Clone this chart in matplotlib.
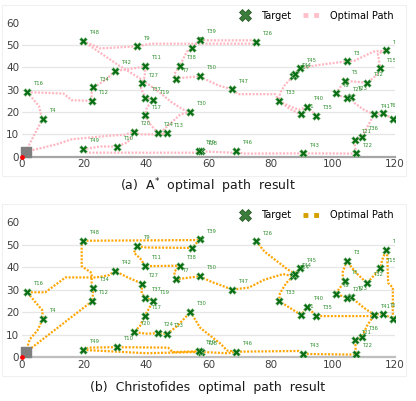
import matplotlib
matplotlib.use("Agg")
import matplotlib.pyplot as plt
from matplotlib.lines import Line2D
from matplotlib.patches import Rectangle

# ---------------- data ----------------
names = ["T1", "T2", "T3", "T4", "T5", "T6", "T7", "T8", "T9", "T10",
         "T11", "T12", "T13", "T14", "T15", "T16", "T17", "T18", "T19", "T20",
         "T21", "T22", "T23", "T24", "T25", "T26", "T27", "T28", "T29", "T30",
         "T31", "T32", "T33", "T34", "T35", "T36", "T37", "T38", "T39", "T40",
         "T41", "T42", "T43", "T44", "T45", "T46", "T47", "T48", "T49", "T50"]
tx = [89.7, 54.7, 104.5, 6.7, 103.9, 116.0, 49.7, 100.9, 37.0, 30.5,
      39.7, 22.6, 46.7, 87.2, 115.3, 1.7, 39.5, 117.1, 42.0, 36.1,
      107.2, 107.4, 105.8, 43.6, 104.4, 75.4, 38.6, 57.6, 56.9, 54.2,
      119.3, 111.0, 82.7, 23.0, 94.7, 109.3, 39.7, 50.8, 57.2, 91.8,
      113.3, 29.9, 90.5, 87.8, 89.4, 69.0, 67.6, 19.6, 19.6, 57.2]
ty = [18.9, 48.6, 42.7, 17.0, 33.9, 19.4, 34.7, 28.3, 49.4, 4.5,
      40.5, 25.0, 10.4, 36.0, 39.5, 28.9, 18.5, 47.6, 25.2, 11.2,
      7.5, 1.5, 26.8, 10.7, 26.5, 51.5, 32.8, 2.4, 2.7, 20.1,
      17.1, 33.0, 25.0, 31.0, 18.3, 8.9, 26.5, 40.8, 52.4, 22.3,
      18.9, 38.4, 1.5, 37.2, 39.5, 2.5, 30.1, 51.8, 3.3, 36.0]

depot = (1.2, 2.2)
origin = (0.0, 0.0)

# A* path segments (target names or intermediate grid waypoints)
astar_paths = [
    ["D", (4.0, 10.0), "T4"],
    ["T16", (5.5, 22.5), (6.0, 19.5), "T4"],
    ["T16", (13.3, 28.3), (16.0, 25.3), "T12"],
    ["T12", (22.3, 28.0), "T34", (27.0, 34.5), "T42", (34.5, 39.2), "T11"],
    ["T11", (39.5, 36.0), "T27", (38.3, 30.5), "T37", "T19", (40.2, 22.0), "T17",
     (41.0, 15.0), "T24", "T13"],
    ["T48", (25.2, 48.5), "T9", (41.5, 50.6), (75.0, 50.6), "T26"],
    ["T39", (60.0, 52.1), (75.0, 52.1), "T26"],
    ["T48", (31.0, 41.0), (38.0, 35.0), (43.6, 29.5), (48.0, 24.5), (52.0, 21.0), "T30"],
    ["T30", (51.0, 19.0), (45.5, 12.0), "T13"],
    ["T20", (38.0, 10.0), (45.0, 10.0), "T13"],
    ["D", (11.0, 5.5), (16.0, 7.8), (28.0, 9.4), (33.0, 9.8), "T20"],
    ["T49", (25.2, 4.6), "T10", (34.0, 6.5), "T20"],
    ["T49", (21.0, 1.8), (56.0, 1.8), "T29", "T28", (67.5, 1.8), "T46",
     (71.0, 1.4), "T43", (107.0, 1.4), "T22"],
    ["T22", (107.0, 6.0), "T21", "T36", (111.0, 13.0), (112.5, 17.0), "T41", "T6", "T31"],
    ["T41", (110.0, 21.0), (107.0, 24.0), "T23", "T25", (102.0, 27.3), "T8", "T5",
     (108.0, 33.5), "T32", (114.5, 37.0), "T15", (114.5, 46.0), "T18", (113.0, 47.0),
     (107.0, 43.0), "T3", (95.0, 41.0), "T45", "T44", "T14", (84.5, 32.0), (83.0, 28.5), "T33"],
    ["T33", (86.0, 21.5), "T1", "T40", "T35"],
    ["T33", (85.5, 23.0), (89.0, 21.0), "T40"],
    ["T33", (81.5, 28.0), (69.5, 28.0), "T47", (63.0, 32.0), (60.0, 34.0), "T50",
     (50.5, 35.2), "T7", (49.0, 37.0), "T38", (53.0, 47.0), "T2", "T39"],
]

# Christofides tour segments
christo_paths = [
    ["D", (2.5, 8.0), (5.0, 12.0), "T4", (6.5, 21.0), (4.0, 25.0), "T16"],
    ["D", "T12"],
    ["T16", (7.5, 28.9), (14.0, 35.5), (24.0, 35.5), (28.0, 36.5), "T42", (34.0, 35.5),
     "T27", (38.5, 28.5), "T37", "T19", (41.0, 22.0), "T17", (38.0, 14.0), "T20",
     (40.0, 10.5), "T24", "T13", (50.0, 14.0), "T30", (57.4, 13.0), (63.9, 6.0),
     (66.0, 3.0), "T46"],
    ["T48", (19.2, 50.0), (19.2, 40.5), (22.4, 37.5), (22.4, 31.5), "T34", "T12"],
    ["T48", (56.0, 52.1), "T39", "T2", (40.0, 48.8), "T9", (36.0, 46.5), (38.0, 44.0),
     "T11", (50.0, 40.7), "T38", (49.0, 38.0), (49.3, 34.5), "T7", "T50", (61.0, 33.5),
     (64.0, 32.0), "T47", (73.0, 31.0), (78.0, 34.5), (84.0, 37.0), "T14", "T44", "T45"],
    ["T26", (78.0, 47.0), (85.5, 39.0), "T44"],
    ["T14", (85.0, 33.0), (83.0, 28.5), "T33", "T1", "T40", "T35", (112.0, 18.3), "T41",
     "T6", "T31", (119.3, 31.0), (117.8, 33.0), (117.5, 45.0), "T18", (115.8, 43.0),
     "T15", "T32", (107.5, 37.5), "T3", (103.2, 38.0), (103.2, 34.5), "T5", "T8",
     "T25", "T23", (110.0, 22.0), "T41"],
    ["T46", (89.0, 2.8), "T43", (106.0, 1.2), "T22", "T21", "T36", (111.0, 14.0), "T41"],
    ["T49", (21.5, 4.3), "T10", (47.0, 4.3), (48.5, 2.3), "T29"],
    ["T49", (40.0, 1.8), "T28", (66.0, 1.8), "T46"],
]

xticks = [0, 20, 40, 60, 80, 100, 120]
yticks = [0, 10, 20, 30, 40, 50, 60]

# ---------------- drawing ----------------
pos = {n: (x, y) for n, x, y in zip(names, tx, ty)}
pos["D"] = depot


def resolve(path):
    xs, ys = [], []
    for p in path:
        x, y = pos[p] if isinstance(p, str) else p
        xs.append(x)
        ys.append(y)
    return xs, ys


plt.rcParams['font.family'] = ['DejaVu Sans']
fig = plt.figure(figsize=(4.16, 4.01), dpi=100)

W, H = 416, 401
panels = [
    dict(top=22.7, bottom=156.7, paths=astar_paths, color="#ffb6c1", lw=1.6,
         caption="(a)  A$^{*}$  optimal  path  result", cap_y=186, axis_col="#a6a6a6",
         leg_col="#ffc0cb"),
    dict(top=222.3, bottom=357.3, paths=christo_paths, color="#ffa500", lw=1.6,
         caption="(b)  Christofides  optimal  path  result", cap_y=387, axis_col="#bfbfbf",
         leg_col="#d4a000"),
]

for pnl in panels:
    # faint panel frame
    fig.patches.append(Rectangle((2 / W, 1 - (pnl["bottom"] + 19) / H), 404 / W,
                                 (pnl["bottom"] - pnl["top"] + 37) / H,
                                 transform=fig.transFigure, fill=False,
                                 edgecolor="#f0f0f0", lw=0.8))
    ax = fig.add_axes([22 / W, 1 - pnl["bottom"] / H, 373 / W,
                       (pnl["bottom"] - pnl["top"]) / H])
    ax.set_xlim(0, 120)
    ax.set_ylim(0, 60)
    for s in ["top", "right", "left"]:
        ax.spines[s].set_visible(False)
    ax.spines["bottom"].set_color(pnl["axis_col"])
    ax.spines["bottom"].set_linewidth(1.6)
    ax.set_xticks(xticks)
    ax.set_yticks(yticks)
    ax.tick_params(length=0, labelsize=7.5, colors="#404040", pad=2)
    ax.grid(axis="y", color="#e6e6e6", lw=0.9)
    ax.get_ygridlines()[-1].set_visible(False)
    ax.set_axisbelow(True)

    for path in pnl["paths"]:
        xs, ys = resolve(path)
        ax.plot(xs, ys, color=pnl["color"], lw=pnl["lw"], ls=(0, (0.9, 0.7)),
                dash_capstyle="butt", zorder=2)

    ax.scatter([depot[0]], [depot[1]], marker="s", s=60, color="#7f7f7f", zorder=3,
               clip_on=False)
    ax.scatter([origin[0]], [origin[1]], marker="o", s=6, color="red", zorder=4,
               clip_on=False)
    ax.scatter(tx, ty, marker="X", s=32, color="#0a6e14", edgecolors="#9bc89b",
               linewidths=0.4, zorder=5)
    for n, x, y in zip(names, tx, ty):
        ax.annotate(n, (x, y), xytext=(5, 6), textcoords="offset points",
                    fontsize=3.8, color="#2f8f2f", ha="left", va="center",
                    annotation_clip=True, clip_on=True, zorder=6)

    handles = [
        Line2D([], [], marker="X", ls="none", color="#3b7d3b", markeredgecolor="#1f4f1f",
               markeredgewidth=0.5, markersize=8),
        Line2D([], [], color=pnl["leg_col"], lw=3.5, ls=(0, (1, 1.2)),
               dash_capstyle="butt"),
    ]
    ax.legend(handles, ["Target", "Optimal Path"], loc="lower right",
              bbox_to_anchor=(1.01, 0.98), frameon=False, ncol=2, fontsize=7,
              handlelength=2.2, handletextpad=0.6, columnspacing=1.2,
              borderaxespad=0.1)

    fig.text(0.5, 1 - pnl["cap_y"] / H, pnl["caption"], ha="center", va="center",
             fontsize=9, color="#1a1a1a")

fig.savefig("out.png", dpi=100)
